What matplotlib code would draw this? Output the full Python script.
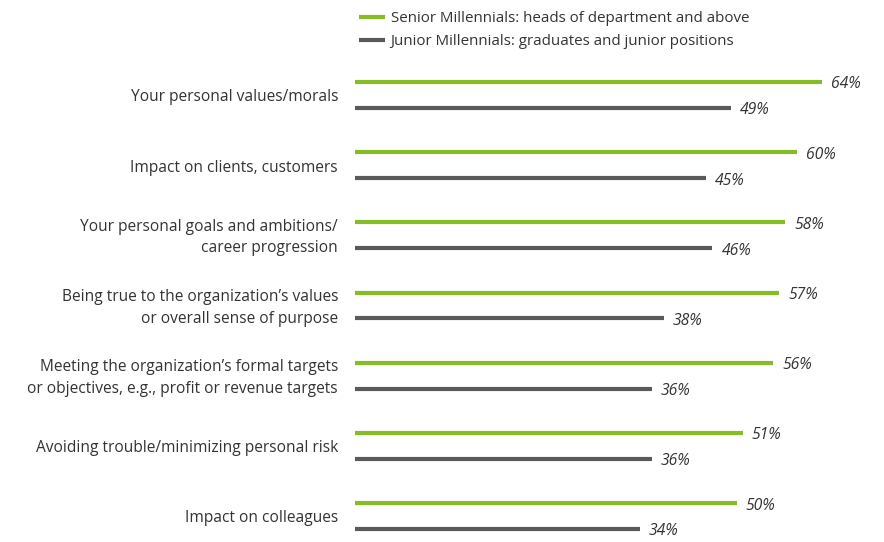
import matplotlib
matplotlib.use('Agg', force=True)
import matplotlib.pyplot as plt

plt.rcParams['font.family'] = ['Open Sans', 'DejaVu Sans']

categories = ['Your personal values/morals',
              'Impact on clients, customers',
              'Your personal goals and ambitions/\ncareer progression',
              'Being true to the organization\u2019s values\nor overall sense of purpose',
              'Meeting the organization\u2019s formal targets\nor objectives, e.g., profit or revenue targets',
              'Avoiding trouble/minimizing personal risk',
              'Impact on colleagues']
senior = [64, 60, 58, 57, 56, 51, 50]
junior = [49, 45, 46, 38, 36, 36, 34]
series_names = ['Senior Millennials: heads of department and above',
                'Junior Millennials: graduates and junior positions']

GREEN = '#86BC25'
GRAY = '#5A5A5A'
TEXT = '#333333'

fig = plt.figure(figsize=(8.84, 5.42), dpi=100)
ax = fig.add_axes([355 / 884, 0, 1 - 355 / 884, 1])
x0, x1 = -12.9, 74.3
ax.set_xlim(x0, x1)
ax.set_ylim(6.37, -1.353)
off = 0.185
dy = 0.035  # nudge text down to sit like the original

for i, (cat, s, j) in enumerate(zip(categories, senior, junior)):
    ax.hlines(i - off, x0, s, color=GREEN, lw=3.0, capstyle='butt',
              label=series_names[0] if i == 0 else None)
    ax.hlines(i + off, x0, j, color=GRAY, lw=3.0, capstyle='butt',
              label=series_names[1] if i == 0 else None)
    ax.text(s + 1.5, i - off + dy, f'{s}%', ha='left', va='center', fontsize=11.3,
            style='italic', color=TEXT)
    ax.text(j + 1.5, i + off + dy, f'{j}%', ha='left', va='center', fontsize=11.3,
            style='italic', color=TEXT)
    ax.text(-0.032, i + dy, cat, transform=ax.get_yaxis_transform(), ha='right',
            va='center', fontsize=11.2, color=TEXT, linespacing=1.45,
            multialignment='right')

ax.legend(loc='upper left', bbox_to_anchor=(-0.004, 0.99), frameon=False,
          fontsize=10.9, handlelength=1.75, handletextpad=0.35, labelspacing=0.5,
          borderaxespad=0, labelcolor=TEXT)
ax.axis('off')
fig.savefig('out.png', dpi=100)
